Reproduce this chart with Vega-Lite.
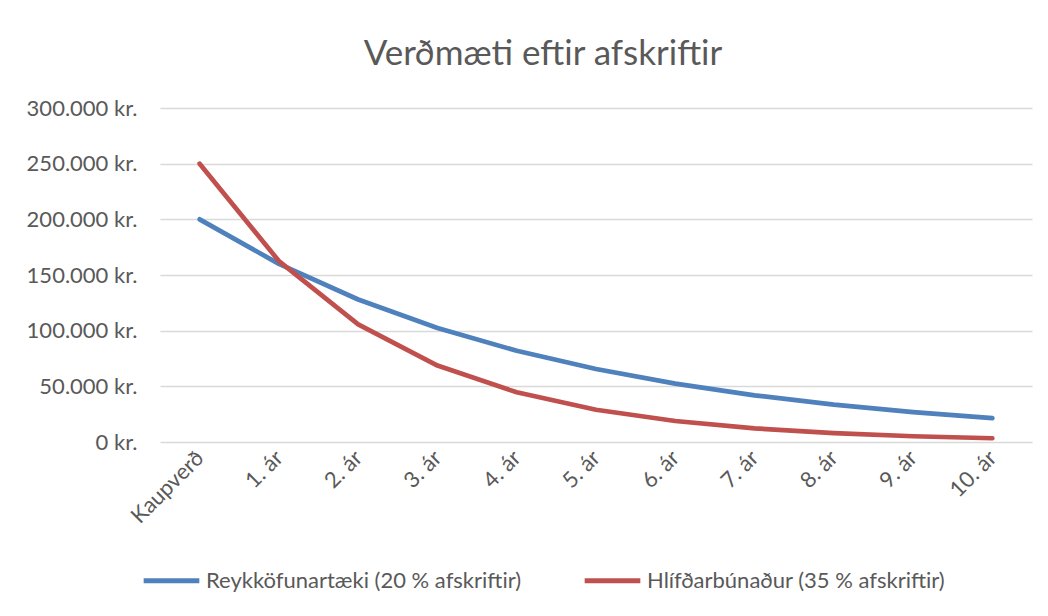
{
  "$schema": "https://vega.github.io/schema/vega-lite/v6.json",
  "width": 872,
  "height": 334,
  "autosize": {"type": "none"},
  "padding": {"left": 160, "top": 108, "right": 16, "bottom": 174},
  "background": "white",
  "title": {
    "text": "Verðmæti eftir afskriftir",
    "font": "Lato",
    "fontSize": 35,
    "fontWeight": "normal",
    "color": "#595959",
    "anchor": "middle",
    "dx": -53,
    "offset": 25
  },
  "data": {
    "values": [
      {"ar": "Kaupverð", "i": 0, "flokkur": "Reykköfunartæki (20 % afskriftir)", "verd": 200000},
      {"ar": "1. ár", "i": 1, "flokkur": "Reykköfunartæki (20 % afskriftir)", "verd": 160000},
      {"ar": "2. ár", "i": 2, "flokkur": "Reykköfunartæki (20 % afskriftir)", "verd": 128000},
      {"ar": "3. ár", "i": 3, "flokkur": "Reykköfunartæki (20 % afskriftir)", "verd": 102400},
      {"ar": "4. ár", "i": 4, "flokkur": "Reykköfunartæki (20 % afskriftir)", "verd": 81920},
      {"ar": "5. ár", "i": 5, "flokkur": "Reykköfunartæki (20 % afskriftir)", "verd": 65536},
      {"ar": "6. ár", "i": 6, "flokkur": "Reykköfunartæki (20 % afskriftir)", "verd": 52429},
      {"ar": "7. ár", "i": 7, "flokkur": "Reykköfunartæki (20 % afskriftir)", "verd": 41943},
      {"ar": "8. ár", "i": 8, "flokkur": "Reykköfunartæki (20 % afskriftir)", "verd": 33554},
      {"ar": "9. ár", "i": 9, "flokkur": "Reykköfunartæki (20 % afskriftir)", "verd": 26844},
      {"ar": "10. ár", "i": 10, "flokkur": "Reykköfunartæki (20 % afskriftir)", "verd": 21475},
      {"ar": "Kaupverð", "i": 0, "flokkur": "Hlífðarbúnaður (35 % afskriftir)", "verd": 250000},
      {"ar": "1. ár", "i": 1, "flokkur": "Hlífðarbúnaður (35 % afskriftir)", "verd": 162500},
      {"ar": "2. ár", "i": 2, "flokkur": "Hlífðarbúnaður (35 % afskriftir)", "verd": 105625},
      {"ar": "3. ár", "i": 3, "flokkur": "Hlífðarbúnaður (35 % afskriftir)", "verd": 68656},
      {"ar": "4. ár", "i": 4, "flokkur": "Hlífðarbúnaður (35 % afskriftir)", "verd": 44627},
      {"ar": "5. ár", "i": 5, "flokkur": "Hlífðarbúnaður (35 % afskriftir)", "verd": 29007},
      {"ar": "6. ár", "i": 6, "flokkur": "Hlífðarbúnaður (35 % afskriftir)", "verd": 18855},
      {"ar": "7. ár", "i": 7, "flokkur": "Hlífðarbúnaður (35 % afskriftir)", "verd": 12256},
      {"ar": "8. ár", "i": 8, "flokkur": "Hlífðarbúnaður (35 % afskriftir)", "verd": 7966},
      {"ar": "9. ár", "i": 9, "flokkur": "Hlífðarbúnaður (35 % afskriftir)", "verd": 5178},
      {"ar": "10. ár", "i": 10, "flokkur": "Hlífðarbúnaður (35 % afskriftir)", "verd": 3366}
    ]
  },
  "mark": {"type": "line", "interpolate": "linear", "strokeWidth": 4.7, "strokeCap": "round", "strokeJoin": "round"},
  "encoding": {
    "x": {
      "field": "ar",
      "type": "ordinal",
      "sort": {"field": "i"},
      "scale": {"type": "point", "padding": 0.5},
      "axis": {
        "title": null,
        "domain": false,
        "ticks": false,
        "grid": false,
        "labelAngle": -45,
        "labelAlign": "right",
        "labelBaseline": "middle",
        "labelPadding": 12,
        "labelFont": "Lato",
        "labelFontSize": 22,
        "labelColor": "#595959"
      }
    },
    "y": {
      "field": "verd",
      "type": "quantitative",
      "scale": {"domain": [0, 300000], "nice": false},
      "axis": {
        "title": null,
        "domain": false,
        "ticks": false,
        "values": [0, 50000, 100000, 150000, 200000, 250000, 300000],
        "labelExpr": "replace(format(datum.value, ','), ',', '.') + ' kr.'",
        "labelPadding": 23,
        "labelFont": "Lato",
        "labelFontSize": 22,
        "labelColor": "#595959",
        "gridColor": "#D9D9D9",
        "gridWidth": 1.3
      }
    },
    "color": {
      "field": "flokkur",
      "type": "nominal",
      "sort": ["Reykköfunartæki (20 % afskriftir)", "Hlífðarbúnaður (35 % afskriftir)"],
      "scale": {"domain": ["Reykköfunartæki (20 % afskriftir)", "Hlífðarbúnaður (35 % afskriftir)"], "range": ["#4F81BD", "#C0504D"]},
      "legend": {
        "title": null,
        "orient": "none",
        "direction": "horizontal",
        "legendX": -19,
        "legendY": 442,
        "symbolType": "stroke",
        "symbolSize": 3100,
        "symbolStrokeWidth": 5,
        "labelFont": "Lato",
        "labelFontSize": 22,
        "labelColor": "#595959",
        "labelLimit": 500,
        "labelOffset": 4,
        "columnPadding": 52
      }
    }
  },
  "config": {"view": {"stroke": null}}
}
